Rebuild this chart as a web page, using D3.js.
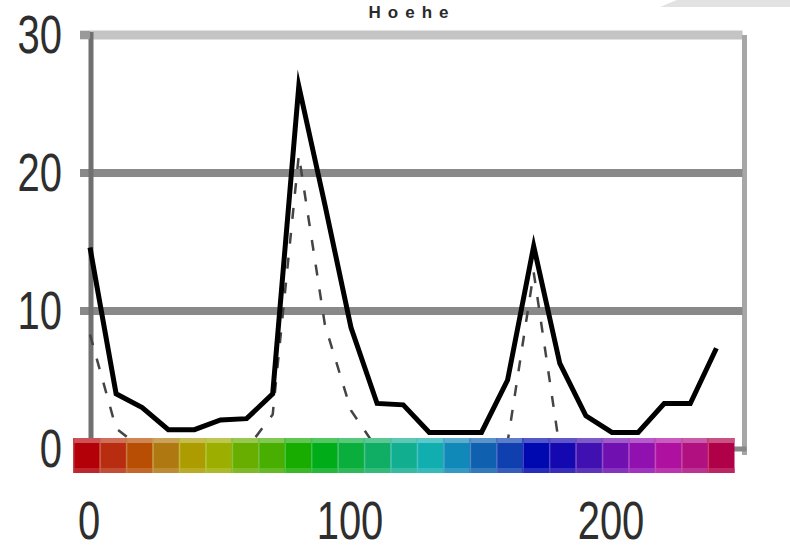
<!DOCTYPE html>
<html>
<head>
<meta charset="utf-8">
<script src="https://cdn.jsdelivr.net/npm/d3@7/dist/d3.min.js"></script>
<style>
  html, body { margin: 0; padding: 0; background: #fff; }
  svg { display: block; }
  text { font-family: "Liberation Sans", Arial, sans-serif; }
</style>
</head>
<body>
<svg id="chart" width="790" height="549"></svg>
<script>
// Distance along the profile (x) and the two height series
const positions = [0, 10, 20, 30, 40, 50, 60, 70, 80, 90, 100, 110, 120,
                   130, 140, 150, 160, 170, 180, 190, 200, 210, 220, 230, 240];
const hoehe = [14.6, 4.0, 3.0, 1.4, 1.4, 2.1, 2.2, 4.0, 26.3, 17.7, 8.8, 3.3, 3.2,
               1.2, 1.2, 1.2, 5.0, 14.7, 6.2, 2.4, 1.2, 1.2, 3.3, 3.3, 7.3];
const hoeheMin = [8.3, 1.5, 0, 0, 0, 0, 0, 2.5, 21.3, 9.0, 2.8, 0, 0,
                  0, 0, 0, 0.5, 12.8, 0, 0, 0, 0, 0, 0, 0];
// Colour strip under the profile, one cell per position
const stripColors = ["#b30008", "#b82c10", "#b84d04", "#b07810", "#ac9c00", "#9cae00",
                     "#68ae00", "#48ae00", "#18ac00", "#00ac18", "#0aae3c", "#10ae64",
                     "#12ae90", "#10aeae", "#1088b8", "#1060b0", "#1040b0", "#0008b0",
                     "#1408b0", "#4010b0", "#7010b0", "#9010b0", "#b010a0", "#b01080",
                     "#b00048"];
const yTicks = [0, 10, 20, 30];
const gridTicks = [10, 20];
const xTicks = [0, 100, 200];
const title = "Hoehe";

const svg = d3.select("#chart");

const x = d3.scaleLinear().domain([0, 250]).range([90, 742.5]);
const y = d3.scaleLinear().domain([0, 30]).range([449, 35]);
const band = d3.scaleBand().domain(d3.range(positions.length)).range([73, 734]);

// decorative band in the top-right corner
svg.append("path")
  .attr("d", "M660,7 Q669,3 677,0 L790,0 L790,7 Z")
  .attr("fill", "#e2e2e2");

// title
svg.append("text")
  .attr("x", 412).attr("y", 18)
  .attr("text-anchor", "middle")
  .attr("font-size", 17)
  .attr("font-weight", "bold")
  .attr("letter-spacing", 7)
  .attr("fill", "#2a2a2a")
  .text(title);

// frame: top line at 30, right border, x baseline
svg.append("line")
  .attr("x1", 80).attr("x2", x(250)).attr("y1", y(30)).attr("y2", y(30))
  .attr("stroke", "#c4c4c4").attr("stroke-width", 9);
svg.append("line")
  .attr("x1", x(250) + 2).attr("x2", x(250) + 2).attr("y1", y(30)).attr("y2", y(0) + 6)
  .attr("stroke", "#a6a6a6").attr("stroke-width", 5);
svg.append("line")
  .attr("x1", x(0)).attr("x2", x(250) + 4).attr("y1", y(0)).attr("y2", y(0))
  .attr("stroke", "#888").attr("stroke-width", 5);

// horizontal gridlines
svg.append("g").selectAll("line").data(gridTicks).join("line")
  .attr("x1", 80).attr("x2", x(250))
  .attr("y1", d => y(d)).attr("y2", d => y(d))
  .attr("stroke", "#898989").attr("stroke-width", 8);

// left axis line
svg.append("line")
  .attr("x1", x(0) + 1).attr("x2", x(0) + 1).attr("y1", y(30) - 3).attr("y2", y(0))
  .attr("stroke", "#707070").attr("stroke-width", 5);
svg.append("line")
  .attr("x1", 80).attr("x2", x(0)).attr("y1", y(30)).attr("y2", y(30))
  .attr("stroke", "#9a9a9a").attr("stroke-width", 8);

// lower series (dashed)
const line = d3.line().x((d, i) => x(positions[i])).y(d => y(d));
svg.append("path")
  .datum(hoeheMin)
  .attr("d", line)
  .attr("fill", "none")
  .attr("stroke", "#444")
  .attr("stroke-width", 2.5)
  .attr("stroke-dasharray", "11,14");

// main series (thick solid)
svg.append("path")
  .datum(hoehe)
  .attr("d", line)
  .attr("fill", "none")
  .attr("stroke", "#000")
  .attr("stroke-width", 5)
  .attr("stroke-linejoin", "miter")
  .attr("stroke-miterlimit", 10);

// colour strip drawn over the baseline
const barTop = 438, barH = 35;
const cells = svg.append("g").selectAll("g").data(stripColors).join("g");
cells.append("rect")
  .attr("x", (d, i) => band(i)).attr("width", band.bandwidth() + 0.5)
  .attr("y", barTop).attr("height", barH)
  .attr("fill", d => d);
cells.append("rect")
  .attr("x", (d, i) => band(i)).attr("width", band.bandwidth() + 0.5)
  .attr("y", barTop).attr("height", 5)
  .attr("fill", d => d3.interpolateRgb(d, "#fff")(0.32));
cells.append("rect")
  .attr("x", (d, i) => band(i)).attr("width", band.bandwidth() + 0.5)
  .attr("y", barTop + barH - 5).attr("height", 5)
  .attr("fill", d => d3.interpolateRgb(d, "#fff")(0.15));
cells.append("rect")
  .attr("x", (d, i) => band(i)).attr("width", 1.5)
  .attr("y", barTop).attr("height", barH)
  .attr("fill", d => d3.interpolateRgb(d, "#fff")(0.25));

// y tick labels
svg.append("g").selectAll("text").data(yTicks).join("text")
  .attr("transform", d => `translate(62,${y(d) + 18}) scale(1,1.32)`)
  .attr("text-anchor", "end")
  .attr("font-size", 40)
  .attr("fill", "#2e2e2e")
  .text(d => d);

// x tick labels
svg.append("g").selectAll("text").data(xTicks).join("text")
  .attr("transform", d => `translate(${x(d) - 1},539) scale(1,1.32)`)
  .attr("text-anchor", "middle")
  .attr("font-size", 40)
  .attr("fill", "#2e2e2e")
  .text(d => d);
</script>
</body>
</html>
